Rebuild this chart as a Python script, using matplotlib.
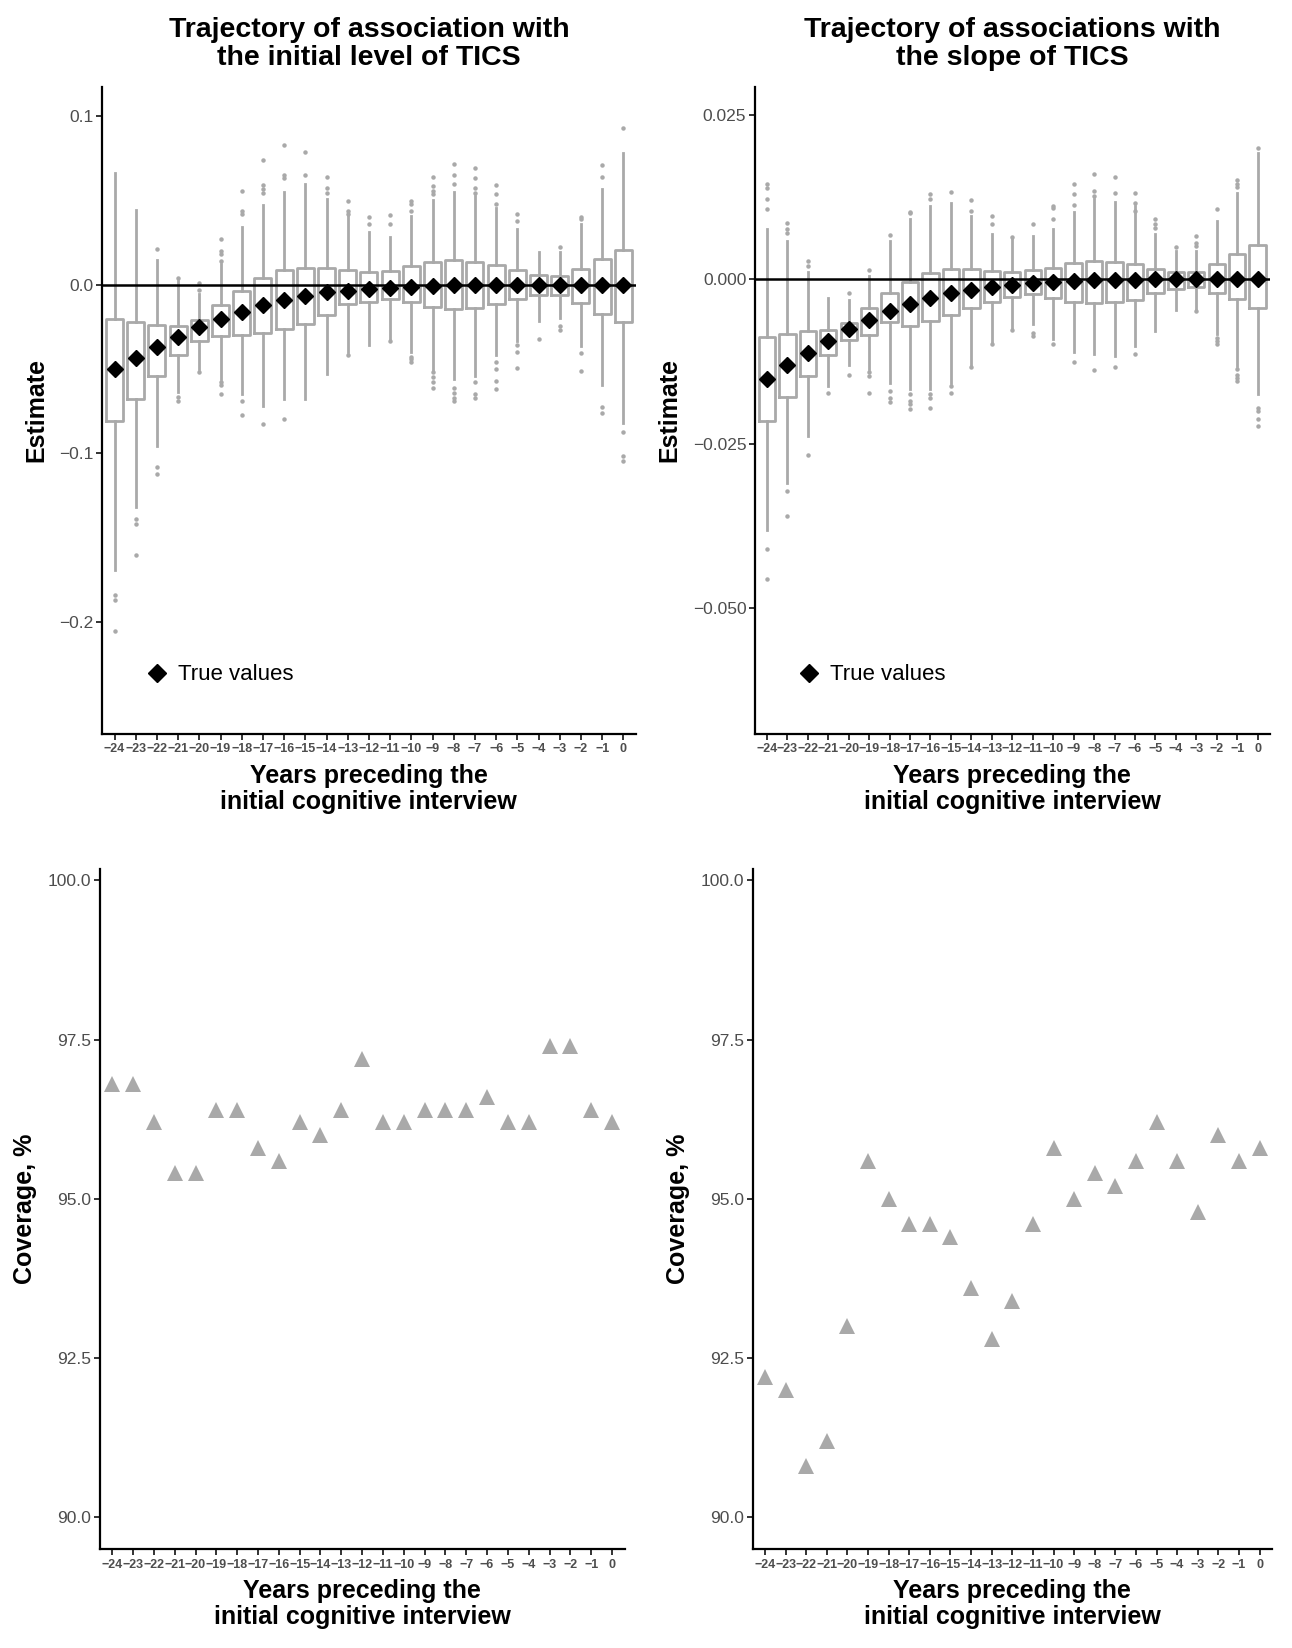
import numpy as np
import matplotlib.pyplot as plt

plt.rcParams['font.family'] = ['Liberation Sans', 'DejaVu Sans']

years = list(range(-24, 1))
year_labels = ['\u2212%d' % -y if y < 0 else '0' for y in years]

# --- level of TICS (top left) ---
lvl_true = [-0.050, -0.0434, -0.0369, -0.031, -0.0254, -0.0205, -0.016, -0.0122,
            -0.0093, -0.0067, -0.0047, -0.0037, -0.0028, -0.0018, -0.0012, -0.0008,
            -0.0004, -0.0004, -0.0002, -0.0001, 0.0, 0.0, 0.0, 0.0, 0.0]
lvl_q1 = [-0.0811, -0.0679, -0.054, -0.0418, -0.0333, -0.0304, -0.030, -0.0288,
          -0.0264, -0.0235, -0.018, -0.0116, -0.0103, -0.0087, -0.0103, -0.013,
          -0.0142, -0.0138, -0.0116, -0.0087, -0.0063, -0.0063, -0.0107, -0.0176, -0.0221]
lvl_q3 = [-0.0201, -0.0221, -0.0239, -0.0247, -0.0209, -0.012, -0.0041, 0.0037,
          0.0085, 0.010, 0.0097, 0.0085, 0.0075, 0.0079, 0.0107, 0.0134,
          0.0144, 0.0136, 0.0116, 0.0085, 0.0055, 0.0049, 0.0091, 0.015, 0.0205]
lvl_lo = [-0.169, -0.132, -0.0955, -0.0639, -0.050, -0.056, -0.065, -0.0718,
          -0.068, -0.0675, -0.0527, -0.040, -0.0357, -0.0323, -0.040, -0.051,
          -0.056, -0.054, -0.0418, -0.0333, -0.0215, -0.020, -0.0363, -0.0596, -0.0817]
lvl_hi = [0.0663, 0.044, 0.0144, 0.002, -0.0057, 0.012, 0.034, 0.047,
          0.055, 0.0594, 0.0505, 0.0406, 0.031, 0.0284, 0.0406, 0.0499,
          0.055, 0.0525, 0.0456, 0.033, 0.0195, 0.0195, 0.0357, 0.0564, 0.0777]
lvl_out = [[-0.184, -0.187, -0.205],
           [-0.139, -0.142, -0.160],
           [0.0213, -0.108, -0.112],
           [0.0041, -0.0665, -0.069],
           [0.0012, -0.003, -0.052],
           [0.0272, 0.020, 0.018, 0.014, -0.058, -0.0596, -0.065],
           [0.0554, 0.0436, 0.0416, -0.0688, -0.0773],
           [0.074, 0.0588, 0.0564, 0.054, -0.0826],
           [0.0824, 0.065, 0.063, -0.0797],
           [0.0785, 0.065],
           [0.064, 0.057, 0.054],
           [0.0495, 0.0436, 0.0416, -0.0416],
           [0.040, 0.0357],
           [0.041, 0.036, -0.0333],
           [0.0495, 0.0475, 0.0436, -0.0428, -0.0442, -0.0458],
           [0.0637, 0.0584, 0.0554, 0.0534, -0.052, -0.055, -0.058, -0.061],
           [0.0716, 0.0647, 0.0594, -0.061, -0.064, -0.067, -0.069],
           [0.069, 0.063, 0.057, 0.054, -0.058, -0.065, -0.067],
           [0.0588, 0.0534, 0.048, -0.046, -0.050, -0.057, -0.062],
           [0.0416, 0.0377, -0.0357, -0.040, -0.0497],
           [-0.0323],
           [0.0225, -0.0245, -0.0268],
           [0.040, 0.0387, -0.0408, -0.0513],
           [0.0706, 0.0637, -0.0724, -0.0761],
           [0.0925, -0.0876, -0.1014, -0.1043]]

# --- slope of TICS (top right) ---
slp_true = [-0.01514, -0.01311, -0.01118, -0.0094, -0.00762, -0.0062, -0.00483, -0.00381,
            -0.0028, -0.00213, -0.00163, -0.00112, -0.00086, -0.0005, -0.00036, -0.00025,
            -0.00015, -0.0001, -0.00005, 0.0, 0.0, 0.0, 0.0, 0.0, 0.0]
slp_q1 = [-0.0216, -0.01794, -0.01474, -0.01159, -0.0093, -0.00849, -0.00645, -0.00711,
          -0.00635, -0.00549, -0.00442, -0.0034, -0.00264, -0.00229, -0.0029, -0.00346,
          -0.00366, -0.00346, -0.00315, -0.00213, -0.00142, -0.00112, -0.002, -0.00305, -0.00432]
slp_q3 = [-0.00874, -0.00828, -0.00788, -0.00772, -0.0067, -0.00437, -0.002, -0.00036,
          0.00102, 0.00163, 0.00163, 0.00127, 0.00112, 0.00142, 0.00168, 0.00254,
          0.0028, 0.00259, 0.00239, 0.00152, 0.00112, 0.00117, 0.00239, 0.00391, 0.00523]
slp_lo = [-0.0382, -0.031, -0.02388, -0.01626, -0.01311, -0.01372, -0.01585, -0.01677,
          -0.01677, -0.01575, -0.013, -0.00965, -0.00737, -0.00686, -0.00915, -0.0111,
          -0.0114, -0.0116, -0.01016, -0.00788, -0.00467, -0.00457, -0.00838, -0.0132, -0.01753]
slp_hi = [0.00772, 0.00584, 0.00117, -0.0029, -0.00315, 0.0005, 0.00584, 0.00915,
          0.01118, 0.01169, 0.00965, 0.00686, 0.0061, 0.0066, 0.0076, 0.0103,
          0.0122, 0.01184, 0.01118, 0.00686, 0.0043, 0.0043, 0.0089, 0.0132, 0.0192]
slp_out = [[0.01448, 0.01397, 0.0122, 0.01067, -0.041, -0.0457],
           [0.00854, 0.00762, 0.0070, -0.0323, -0.036],
           [0.0028, 0.0021, -0.02668],
           [-0.01738],
           [-0.002, -0.01463],
           [0.00137, -0.0141, -0.0147, -0.0173],
           [0.0068, -0.017, -0.018, -0.0187],
           [0.01026, 0.01006, -0.0175, -0.0185, -0.019, -0.0198],
           [0.01296, 0.0122, -0.0175, -0.018, -0.01956],
           [0.01336, -0.0162, -0.0173],
           [0.0121, 0.0104, -0.0133],
           [0.00965, 0.0084, -0.0099],
           [0.0065, -0.0077],
           [0.0084, -0.0081, -0.0087],
           [0.0112, 0.0108, 0.0092, -0.0099],
           [0.0145, 0.013, 0.0114, -0.0126],
           [0.0161, 0.01347, 0.0127, -0.01387],
           [0.0156, 0.0132, -0.0133],
           [0.0132, 0.0117, 0.0104, -0.0113],
           [0.0092, 0.0084, 0.0079],
           [0.0049],
           [0.0066, 0.0056, 0.0051, -0.0048],
           [0.01067, -0.0089, -0.0094, -0.0098],
           [0.0151, 0.0145, 0.014, -0.0137, -0.0145, -0.015, -0.0155],
           [0.01997, -0.01956, -0.0201, -0.0213, -0.0224]]

# --- coverage (bottom) ---
cov_level = [96.8, 96.8, 96.2, 95.4, 95.4, 96.4, 96.4, 95.8, 95.6, 96.2, 96.0, 96.4, 97.2,
             96.2, 96.2, 96.4, 96.4, 96.4, 96.6, 96.2, 96.2, 97.4, 97.4, 96.4, 96.2]
cov_slope = [92.2, 92.0, 90.8, 91.2, 93.0, 95.6, 95.0, 94.6, 94.6, 94.4, 93.6, 92.8, 93.4,
             94.6, 95.8, 95.0, 95.4, 95.2, 95.6, 96.2, 95.6, 94.8, 96.0, 95.6, 95.8]

GRAY = '#A9A9A9'
pos = np.arange(len(years))

fig = plt.figure(figsize=(12.92, 16.48), dpi=100)
ax_tl = fig.add_axes([0.0788, 0.5548, 0.4135, 0.3924])
ax_tr = fig.add_axes([0.5841, 0.5548, 0.3988, 0.3924])
ax_bl = fig.add_axes([0.0772, 0.0601, 0.4062, 0.4126])
ax_br = fig.add_axes([0.5825, 0.0601, 0.4020, 0.4126])


def style(ax, ylab):
    for s in ['top', 'right']:
        ax.spines[s].set_visible(False)
    for s in ['left', 'bottom']:
        ax.spines[s].set_linewidth(1.6)
        ax.spines[s].set_color('black')
    ax.set_xlim(-0.6, len(years) - 0.4)
    ax.set_xticks(pos)
    ax.set_xticklabels(year_labels, fontsize=9, fontweight='bold', color='#4D4D4D')
    ax.tick_params(axis='both', length=4, width=1.4, color='#333333', pad=2)
    ax.tick_params(axis='x', pad=3)
    ax.tick_params(axis='y', labelsize=12.5, labelcolor='#4D4D4D')
    ax.set_xlabel('Years preceding the\ninitial cognitive interview',
                  fontsize=18, fontweight='bold', linespacing=1.1, labelpad=6)
    ax.set_ylabel(ylab, fontsize=18, fontweight='bold', labelpad=8)


def boxes(ax, q1, q3, med, lo, hi, out, true, title, yticks, ylim, fmt):
    stats = []
    for i in range(len(years)):
        stats.append(dict(q1=q1[i], q3=q3[i], med=med[i], whislo=lo[i],
                          whishi=hi[i], fliers=out[i]))
    ax.bxp(stats, positions=pos, widths=0.8, showcaps=False, patch_artist=False,
           boxprops=dict(color=GRAY, linewidth=2.0),
           whiskerprops=dict(color=GRAY, linewidth=2.0),
           medianprops=dict(color=GRAY, linewidth=2.0),
           flierprops=dict(marker='o', markersize=2.2, markerfacecolor=GRAY,
                           markeredgecolor=GRAY))
    ax.axhline(0, color='black', linewidth=1.8, zorder=3)
    ax.plot(pos, true, linestyle='none', marker='D', markersize=7.8,
            color='black', zorder=4, label='True values')
    ax.set_ylim(*ylim)
    ax.set_yticks(yticks)
    ax.set_yticklabels([fmt(v) for v in yticks])
    style(ax, 'Estimate')
    ax.set_title(title, fontsize=20.5, fontweight='bold', linespacing=1.1, pad=16)
    ax.legend(loc='center left', bbox_to_anchor=(0.04, 0.091), frameon=False,
              fontsize=16, handletextpad=0.35, handlelength=1.2, markerscale=1.15)


def fmt_lvl(v):
    return ('%.1f' % v).replace('-', '\u2212')


def fmt_slp(v):
    return ('%.3f' % v).replace('-', '\u2212')


boxes(ax_tl, lvl_q1, lvl_q3, lvl_true, lvl_lo, lvl_hi, lvl_out, lvl_true,
      'Trajectory of association with\nthe initial level of TICS',
      [-0.2, -0.1, 0.0, 0.1], (-0.266, 0.117), fmt_lvl)
boxes(ax_tr, slp_q1, slp_q3, slp_true, slp_lo, slp_hi, slp_out, slp_true,
      'Trajectory of associations with\nthe slope of TICS',
      [-0.050, -0.025, 0.0, 0.025], (-0.0692, 0.0293), fmt_slp)

for ax, cov in [(ax_bl, cov_level), (ax_br, cov_slope)]:
    ax.plot(pos, cov, linestyle='none', marker='^', markersize=12,
            color=GRAY, markeredgewidth=0)
    ax.set_ylim(89.5, 100.18)
    ax.set_yticks([90.0, 92.5, 95.0, 97.5, 100.0])
    ax.set_yticklabels(['%.1f' % v for v in [90.0, 92.5, 95.0, 97.5, 100.0]])
    style(ax, 'Coverage, %')

fig.savefig('out.png', dpi=100)
